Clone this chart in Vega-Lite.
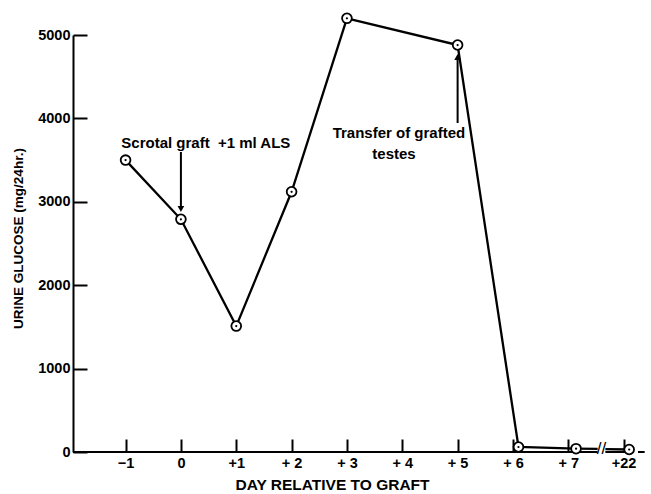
{
  "$schema": "https://vega.github.io/schema/vega-lite/v6.json",
  "width": 570,
  "height": 417,
  "autosize": "none",
  "padding": {"left": 73, "top": 35, "right": 8, "bottom": 42},
  "background": "white",
  "config": {
    "view": {"stroke": null},
    "font": "Liberation Sans",
    "axis": {"grid": false, "labelFont": "Liberation Sans", "titleFont": "Liberation Sans", "labelColor": "black", "titleColor": "black", "tickColor": "black", "domainColor": "black"}
  },
  "datasets": {
    "pts": [
      {"pos": -1, "v": 3500},
      {"pos": 0, "v": 2790},
      {"pos": 1, "v": 1510},
      {"pos": 2, "v": 3120},
      {"pos": 3, "v": 5200},
      {"pos": 5, "v": 4880},
      {"pos": 6.1, "v": 60},
      {"pos": 7.14, "v": 40},
      {"pos": 8.1, "v": 30}
    ],
    "segs": [
      {"seg": "a", "pos": -1, "v": 3500},
      {"seg": "a", "pos": 0, "v": 2790},
      {"seg": "a", "pos": 1, "v": 1510},
      {"seg": "a", "pos": 2, "v": 3120},
      {"seg": "a", "pos": 3, "v": 5200},
      {"seg": "a", "pos": 5, "v": 4880},
      {"seg": "a", "pos": 6.1, "v": 60},
      {"seg": "a", "pos": 7.14, "v": 40},
      {"seg": "b", "pos": 7.14, "v": 40},
      {"seg": "b", "pos": 7.53, "v": 38},
      {"seg": "c", "pos": 7.67, "v": 35},
      {"seg": "c", "pos": 8.1, "v": 30}
    ],
    "axisline": [
      {"a": -1.95, "b": 7.53},
      {"a": 7.67, "b": 8.18},
      {"a": 8.26, "b": 8.38}
    ],
    "arrows": [
      {"pos": 0, "v": 3597, "v2": 2914},
      {"pos": 5, "v": 3945, "v2": 4736}
    ],
    "heads": [
      {"pos": 0, "v": 2914, "shape": "triangle-down"},
      {"pos": 5, "v": 4736, "shape": "triangle-up"}
    ],
    "notes": [
      {"pos": 0.45, "v": 3705, "label": "Scrotal graft \u00a0+1 ml ALS"},
      {"pos": 3.94, "v": 3825, "label": "Transfer of grafted"},
      {"pos": 3.85, "v": 3573, "label": "testes"}
    ],
    "brk": [
      {"pos": 7.6, "v": 40, "label": "//"}
    ]
  },
  "layer": [
    {
      "data": {"name": "segs"},
      "mark": {"type": "line", "color": "black", "strokeWidth": 2.3},
      "encoding": {
        "x": {"field": "pos", "type": "quantitative", "scale": {"domain": [-1.95, 8.35], "nice": false, "zero": false},
          "axis": {"values": [-1, 0, 1, 2, 3, 4, 5, 6, 7, 8], "domain": false, "tickSize": -13, "tickWidth": 2, "labelFontSize": 14.5, "labelFontWeight": "bold", "labelPadding": 17,
            "labelExpr": "datum.value == 8 ? '+22' : datum.value < 0 ? '\u2212' + abs(datum.value) : datum.value == 0 ? '0' : datum.value == 1 ? '+1' : '+ ' + datum.value",
            "title": "DAY RELATIVE TO GRAFT", "titleFontSize": 15.5, "titleFontWeight": "bold", "titlePadding": 8, "titleX": 259}},
        "y": {"field": "v", "type": "quantitative", "scale": {"domain": [0, 5000], "nice": false},
          "axis": {"values": [0, 1000, 2000, 3000, 4000, 5000], "format": "d", "domainWidth": 2, "tickSize": -14, "tickWidth": 2, "labelFontSize": 14.5, "labelFontWeight": "bold", "labelPadding": 17,
            "title": "URINE GLUCOSE (mg/24hr.)", "titleFontSize": 13.5, "titleFontWeight": "bold", "titlePadding": 12, "titleY": 203}},
        "detail": {"field": "seg"}
      }
    },
    {
      "data": {"name": "axisline"},
      "mark": {"type": "rule", "color": "black", "strokeWidth": 2},
      "encoding": {
        "x": {"field": "a", "type": "quantitative"},
        "x2": {"field": "b"},
        "y": {"datum": 0}
      }
    },
    {
      "data": {"name": "pts"},
      "mark": {"type": "point", "filled": true, "fill": "white", "stroke": "black", "strokeWidth": 1.8, "size": 95, "opacity": 1},
      "encoding": {
        "x": {"field": "pos", "type": "quantitative"},
        "y": {"field": "v", "type": "quantitative"}
      }
    },
    {
      "data": {"name": "pts"},
      "mark": {"type": "point", "filled": true, "color": "black", "size": 5, "opacity": 1},
      "encoding": {
        "x": {"field": "pos", "type": "quantitative"},
        "y": {"field": "v", "type": "quantitative"}
      }
    },
    {
      "data": {"name": "arrows"},
      "mark": {"type": "rule", "color": "black", "strokeWidth": 2},
      "encoding": {
        "x": {"field": "pos", "type": "quantitative"},
        "y": {"field": "v", "type": "quantitative"},
        "y2": {"field": "v2"}
      }
    },
    {
      "data": {"name": "heads"},
      "mark": {"type": "point", "filled": true, "color": "black", "size": 45, "opacity": 1},
      "encoding": {
        "x": {"field": "pos", "type": "quantitative"},
        "y": {"field": "v", "type": "quantitative"},
        "shape": {"field": "shape", "type": "nominal", "scale": null, "legend": null}
      }
    },
    {
      "data": {"name": "notes"},
      "mark": {"type": "text", "fontSize": 15, "fontWeight": "bold", "color": "black", "align": "center", "baseline": "middle"},
      "encoding": {
        "x": {"field": "pos", "type": "quantitative"},
        "y": {"field": "v", "type": "quantitative"},
        "text": {"field": "label"}
      }
    },
    {
      "data": {"name": "brk"},
      "mark": {"type": "text", "fontSize": 17, "color": "black", "align": "center", "baseline": "middle"},
      "encoding": {
        "x": {"field": "pos", "type": "quantitative"},
        "y": {"field": "v", "type": "quantitative"},
        "text": {"field": "label"}
      }
    }
  ]
}
